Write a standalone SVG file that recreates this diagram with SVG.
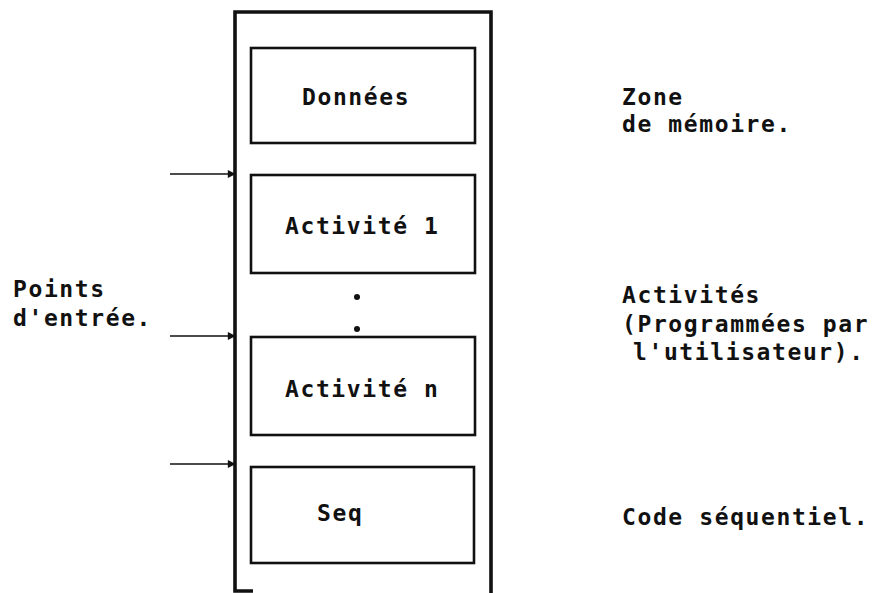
<svg xmlns="http://www.w3.org/2000/svg" width="877" height="593" viewBox="0 0 877 593">
<defs>
<style>
.box{fill:none;stroke:#111;stroke-width:2.6}
.outer{fill:none;stroke:#111;stroke-width:3.6}
.t{font-family:"DejaVu Sans Mono","Liberation Mono",monospace;font-weight:bold;font-size:23px;letter-spacing:1.6px;fill:#111}
.conn{stroke:#111;stroke-width:1.6;fill:none}
</style>
<marker id="ah" viewBox="0 0 10 10" refX="9" refY="5" markerWidth="9" markerHeight="8" markerUnits="userSpaceOnUse" orient="auto">
<path d="M0,0 L10,5 L0,10 z" fill="#111"/>
</marker>
</defs>
<rect width="877" height="593" fill="#fff"/>
<g id="memoire">
<path class="outer" d="M253 591 H235 V12 H491 V593"/>
</g>
<g id="donnees">
<rect class="box" x="251" y="48" width="224" height="95"/>
<text class="t" x="302" y="105">Données</text>
</g>
<g id="activite1">
<rect class="box" x="251" y="175" width="224" height="98"/>
<text class="t" x="285" y="234">Activité 1</text>
</g>
<g id="dots">
<circle cx="357" cy="297" r="3" fill="#111"/>
<circle cx="357" cy="329" r="3" fill="#111"/>
</g>
<g id="activiten">
<rect class="box" x="251" y="337" width="224" height="98"/>
<text class="t" x="285" y="397">Activité n</text>
</g>
<g id="seq">
<rect class="box" x="251" y="467" width="223" height="96"/>
<text class="t" x="317" y="521">Seq</text>
</g>
<g id="labels">
<text class="t" x="13" y="297">Points</text>
<text class="t" x="13" y="326">d'entrée.</text>
<text class="t" x="622" y="105">Zone</text>
<text class="t" x="622" y="132">de mémoire.</text>
<text class="t" x="622" y="303">Activités</text>
<text class="t" x="622" y="332">(Programmées par</text>
<text class="t" x="633" y="360">l'utilisateur).</text>
<text class="t" x="622" y="525">Code séquentiel.</text>
</g>
<g id="connectors">
<line class="conn" x1="170" y1="174" x2="235" y2="174" marker-end="url(#ah)"/>
<line class="conn" x1="170" y1="336" x2="235" y2="336" marker-end="url(#ah)"/>
<line class="conn" x1="170" y1="464" x2="235" y2="464" marker-end="url(#ah)"/>
</g>
</svg>
